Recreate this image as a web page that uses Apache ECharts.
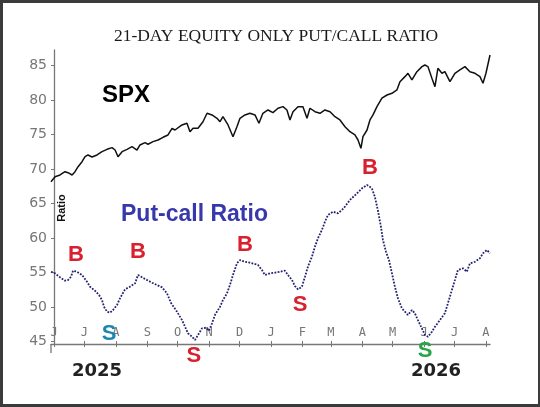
<!DOCTYPE html>
<html><head><meta charset="utf-8">
<script src="https://cdn.jsdelivr.net/npm/echarts@6/dist/echarts.min.js"></script>
<style>
html,body{margin:0;padding:0;background:#fff;}
#c{position:absolute;left:0;top:0;width:540px;height:407px;}
#f{position:absolute;left:0;top:0;width:540px;height:407px;box-sizing:border-box;border-style:solid;border-color:#3b3b3b;border-width:3px 2px 3px 3px;pointer-events:none;}
</style>
</head><body><div id="c"></div><div id="f"></div>
<script>
// x values are days counted from 1 June 2025
const monthTicks = [0, 30, 61, 92, 122, 153, 183, 214, 245, 273, 304, 334, 365, 395, 426];
const monthLabels = ['J','J','A','S','O','N','D','J','F','M','A','M','J','J','A'];
const yTicks = [45, 50, 55, 60, 65, 70, 75, 80, 85];

const spxDays = [-3,1,5.9,10.8,13.8,17.8,20.7,23.7,27.6,30.6,33.5,37.5,42.4,47.3,52.3,57.2,60.2,63.1,67.1,72,76.9,81.8,84.8,89.7,92.7,97.6,102.6,107.5,112.4,116.4,119.3,126.2,131.1,134.1,137.1,142,146.9,150.9,155.8,160.7,163.7,166.6,171.6,176.5,180.4,183.4,188.3,193.2,198.2,202.1,206,211,215.9,220.9,225.8,229.7,232.7,235.7,240.6,245.5,249.5,252.4,257.4,262.3,267.2,272.2,277.1,282,287,291.9,296.8,299.8,302.7,304.7,308.7,311.6,314.6,318.5,323.4,328.4,333.3,338.2,341.2,346.1,349.1,353,357.9,362.9,365.8,368.8,372.7,375.7,378.6,382.6,385.5,390.5,395.4,400.3,405.3,410.2,415.2,420.1,423.1,426,430];
const spxVals = [68.19,68.91,69.16,69.64,69.49,69.16,69.64,70.36,71.09,71.81,72.06,71.77,72.06,72.54,72.88,73.12,72.78,71.81,72.54,72.88,73.26,72.78,73.51,73.84,73.61,73.99,74.23,74.62,74.96,75.9,75.68,76.41,76.65,75.43,75.93,75.93,76.88,78.1,77.86,77.38,76.88,77.61,76.41,74.71,76.16,77.38,77.86,78.1,77.86,76.65,78.1,78.58,78.19,78.83,79.06,78.58,77.13,78.33,79.06,79.06,77.38,78.83,78.33,78.1,78.58,78.33,77.61,77.13,76.16,75.43,74.96,74.23,73.03,74.71,75.68,77.13,77.86,79.06,80.28,80.75,81,81.48,82.68,83.41,83.9,82.93,84.13,84.86,85.1,84.86,83.17,81.96,84.62,83.9,84.13,82.68,83.9,84.38,84.86,84.13,83.9,83.41,82.45,83.9,86.55];

const pcDays = [-3,1,5.9,10.8,13.8,16.8,18.7,22.7,27.6,32.5,35.5,40.4,44.4,47.3,49.3,52.3,55.2,58.2,62.1,65.1,70,74.9,79.9,82.8,86.8,91.7,96.6,101.6,106.5,111.4,115.4,121.3,126.2,129.2,132.1,136.1,139,142,145.9,149.9,152.8,155.8,158.7,163.7,166.6,170.6,173.5,176.5,180.4,183.4,188.3,193.2,198.2,201.1,205.1,208,213,217.9,222.8,227.8,230.7,234.7,237.6,240.6,244.5,247.5,250.4,254.4,257.3,260.3,264.2,267.2,270.2,275.1,280,284,286.9,291.9,298.8,303.7,308.6,313.5,316.5,319.5,322.4,324.4,327.4,330.3,333.3,336.2,339.2,343.1,346.1,349,353,355.9,358.9,362.8,365.8,368.8,372.7,375.7,380.6,385.5,388.5,392.4,395.4,398.3,403.3,407.2,410.2,415.2,420.1,423.1,427,430];
const pcVals = [55.14,54.91,54.33,53.84,53.94,54.42,55.29,55.14,54.67,53.7,52.97,52.39,51.77,51.04,50.07,49.35,49.2,49.59,50.32,51.29,52.59,52.97,53.46,54.67,54.33,53.94,53.55,53.22,52.88,52.01,50.61,49.35,48.14,47.17,46.22,45.72,45.25,45.97,46.94,47.03,46.59,47.67,48.87,50.07,51.04,52.01,53.22,54.67,56.36,56.84,56.59,56.45,56.26,56.12,55.39,54.67,54.91,55,55.14,55.29,54.67,53.94,53.07,52.59,52.97,54.42,55.87,57.32,58.77,59.99,61.19,62.39,63.36,63.84,63.61,64.09,64.57,65.54,66.51,67.23,67.71,67.23,65.97,63.97,61.67,59.74,58.04,56.84,54.91,52.97,51.29,49.84,49.35,48.87,49.59,49.12,48.14,46.94,45.97,45.72,46.45,47.17,48.14,49.12,50.57,52.49,53.94,55.39,55.64,55.14,56.36,56.59,57.09,57.81,58.29,57.81];

const sigDays = [21.7, 82.8, 54.2, 138, 188.4, 242.6, 311.6, 365.9];
const sigVals = [57.6, 58.0, 46.1, 42.9, 59.0, 50.3, 70.2, 43.7];
const sigText = ['B', 'B', 'S', 'S', 'B', 'S', 'B', 'S'];
const sigColor = ['#d8202f', '#d8202f', '#1f86b0', '#d8202f', '#d8202f', '#d8202f', '#d8202f', '#26a545'];

const zip = (a, b) => a.map((d, i) => [d, b[i]]);

const chart = echarts.init(document.getElementById('c'), null, {renderer: 'canvas'});
chart.setOption({
  animation: false,
  backgroundColor: '#fff',
  title: {
    text: '21-DAY EQUITY ONLY PUT/CALL RATIO',
    left: 271, top: 22, textAlign: 'center',
    textStyle: {fontFamily: 'Liberation Serif', fontSize: 17.5, fontWeight: 'normal', color: '#1a1a1a'}
  },
  grid: {left: 51, right: 50, top: 50, bottom: 63},
  xAxis: [{
    type: 'value', min: -3, max: 430,
    axisLine: {show: true, lineStyle: {color: '#777', width: 1.3}},
    axisTick: {show: true, customValues: monthTicks, length: 3, lineStyle: {color: '#777'}},
    axisLabel: {
      show: true, inside: true, margin: 5, customValues: monthTicks,
      formatter: v => monthLabels[monthTicks.indexOf(v)] || '',
      fontFamily: 'DejaVu Sans Mono', fontSize: 12, color: '#777'
    },
    splitLine: {show: false}
  }, {
    type: 'value', min: -3, max: 430, position: 'bottom',
    axisLine: {show: false},
    axisTick: {show: true, inside: true, customValues: monthTicks, length: 3, lineStyle: {color: '#777'}},
    axisLabel: {show: false},
    splitLine: {show: false}
  }],
  yAxis: {
    type: 'value', min: 44.67, max: 87.27,
    axisLine: {show: true, lineStyle: {color: '#777', width: 1.3}},
    axisTick: {show: true, customValues: yTicks, length: 3, lineStyle: {color: '#777'}},
    axisLabel: {show: true, customValues: yTicks, margin: 4, fontFamily: 'DejaVu Sans', fontSize: 14, color: '#777'},
    splitLine: {show: false}
  },
  series: [{
    name: 'SPX', type: 'line', data: zip(spxDays, spxVals), showSymbol: false,
    lineStyle: {color: '#111', width: 1.5}, z: 3
  }, {
    name: 'Put-call Ratio', type: 'line', data: zip(pcDays, pcVals), showSymbol: false,
    lineStyle: {color: '#22226f', width: 1.8, type: [1.8, 1.4]}, z: 3
  }, {
    type: 'scatter', symbolSize: 0, clip: false, z: 5,
    itemStyle: {opacity: 1},
    data: sigDays.map((d, i) => ({
      value: [d, sigVals[i]],
      label: {show: true, position: 'inside', formatter: sigText[i], color: sigColor[i], opacity: 1,
        fontFamily: 'Liberation Sans', fontWeight: 'bold', fontSize: 22}
    }))
  }],
  graphic: [
    {type: 'text', left: 102, top: 83, style: {text: 'SPX', font: 'bold 24px "Liberation Sans"', fill: '#000'}},
    {type: 'text', left: 121, top: 203, style: {text: 'Put-call Ratio', font: 'bold 23px "Liberation Sans"', fill: '#3838ad'}},
    {type: 'text', x: 62, y: 208, rotation: Math.PI / 2, style: {text: 'Ratio', font: 'bold 11px "Liberation Sans"', fill: '#111', align: 'center', verticalAlign: 'middle'}},
    {type: 'text', x: 97, y: 371, style: {text: '2025', font: 'bold 18px "DejaVu Sans"', fill: '#222', align: 'center', verticalAlign: 'middle'}},
    {type: 'text', x: 436, y: 371, style: {text: '2026', font: 'bold 18px "DejaVu Sans"', fill: '#222', align: 'center', verticalAlign: 'middle'}},
    {type: 'line', shape: {x1: 51, y1: 344, x2: 51, y2: 353}, style: {stroke: '#777', lineWidth: 1.3}}
  ]
});
</script>
</body></html>
